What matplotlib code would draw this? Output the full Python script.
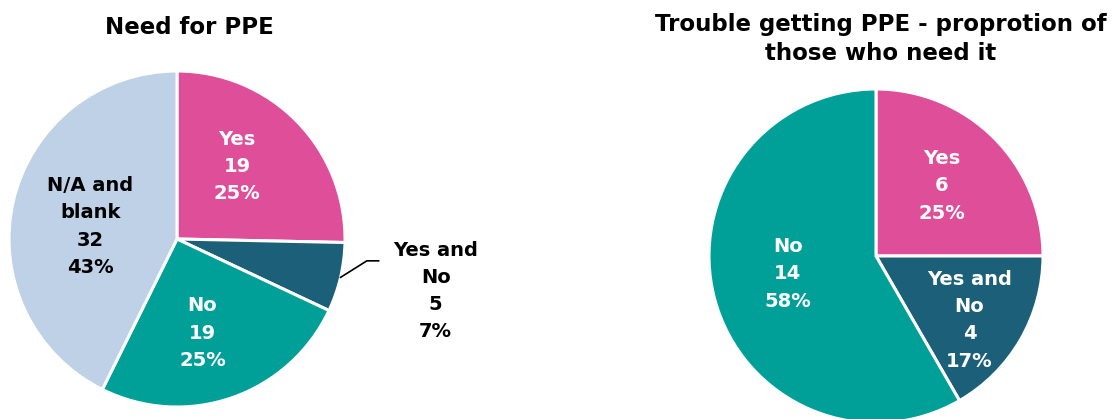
import numpy as np
import matplotlib
matplotlib.use('Agg')
import matplotlib.pyplot as plt

# 数据
need_labels = ['Yes', 'Yes and\nNo', 'No', 'N/A and\nblank']
need_counts = [19, 5, 19, 32]
need_colors = ['#DF4F99', '#1B5F78', '#00A099', '#BFD1E7']
need_text = ['white', 'black', 'white', 'black']
# 标签位置：半径比例和角度偏移（度）
need_dist = [0.56, None, 0.58, 0.52]
need_shift = [6, 0, -4, 5]

trouble_labels = ['Yes', 'Yes and\nNo', 'No']
trouble_counts = [6, 4, 14]
trouble_colors = ['#DF4F99', '#1B5F78', '#00A099']
trouble_text = ['white', 'white', 'white']
trouble_dist = [0.575, 0.68, 0.54]
trouble_shift = [2, -4.5, -3.5]

W, H = 1118, 419
plt.rcParams['font.family'] = ['DejaVu Sans']
fig = plt.figure(figsize=(W / 100, H / 100), dpi=100)

LABEL_SIZE = 14
LSP = 1.55


def pie_axes(cx, cy, r):
    # 以像素为单位放置饼图坐标轴
    ax = fig.add_axes([(cx - r) / W, 1 - (cy + r) / H, 2 * r / W, 2 * r / H])
    ax.set_xlim(-1, 1)
    ax.set_ylim(-1, 1)
    ax.set_aspect('equal')
    ax.axis('off')
    return ax


def draw_pie(ax, labels, counts, colors, text_colors, dists, shifts):
    total = sum(counts)
    wedges, _ = ax.pie(counts, colors=colors, startangle=90, counterclock=False,
                       radius=1, wedgeprops=dict(edgecolor='white', linewidth=2.2))
    ax.set_xlim(-1, 1)
    ax.set_ylim(-1, 1)
    for w, lab, n, tc, d, s in zip(wedges, labels, counts, text_colors, dists, shifts):
        if d is None:
            continue
        ang = np.deg2rad((w.theta1 + w.theta2) / 2 + s)
        txt = f'{lab}\n{n}\n{n / total:.0%}'
        ax.text(d * np.cos(ang), d * np.sin(ang), txt, ha='center', va='center',
                color=tc, fontsize=LABEL_SIZE, fontweight='bold', linespacing=LSP)
    return wedges


# 左图
ax1 = pie_axes(177, 239, 168)
w1 = draw_pie(ax1, need_labels, need_counts, need_colors, need_text, need_dist, need_shift)
# 外部标签 "Yes and No"
w = w1[1]
ang = np.deg2rad((w.theta1 + w.theta2) / 2)
p0 = (np.cos(ang), np.sin(ang))
ax1.plot([p0[0], 1.13, 1.2], [p0[1], -0.13, -0.13], color='black', lw=1.2, clip_on=False)
n = need_counts[1]
ax1.text(1.54, -0.31, f'{need_labels[1]}\n{n}\n{n / sum(need_counts):.0%}',
         ha='center', va='center', color='black', fontsize=LABEL_SIZE,
         fontweight='bold', linespacing=LSP, clip_on=False)

# 右图
ax2 = pie_axes(876, 256, 167)
draw_pie(ax2, trouble_labels, trouble_counts, trouble_colors, trouble_text,
         trouble_dist, trouble_shift)

# 标题
fig.text(189 / W, 1 - 28 / H, 'Need for PPE', ha='center', va='center',
         fontsize=16.5, fontweight='bold')
fig.text(881 / W, 1 - 39 / H, 'Trouble getting PPE - proprotion of\nthose who need it',
         ha='center', va='center', fontsize=16.5, fontweight='bold', linespacing=1.32)

fig.savefig('out.png', dpi=100)
